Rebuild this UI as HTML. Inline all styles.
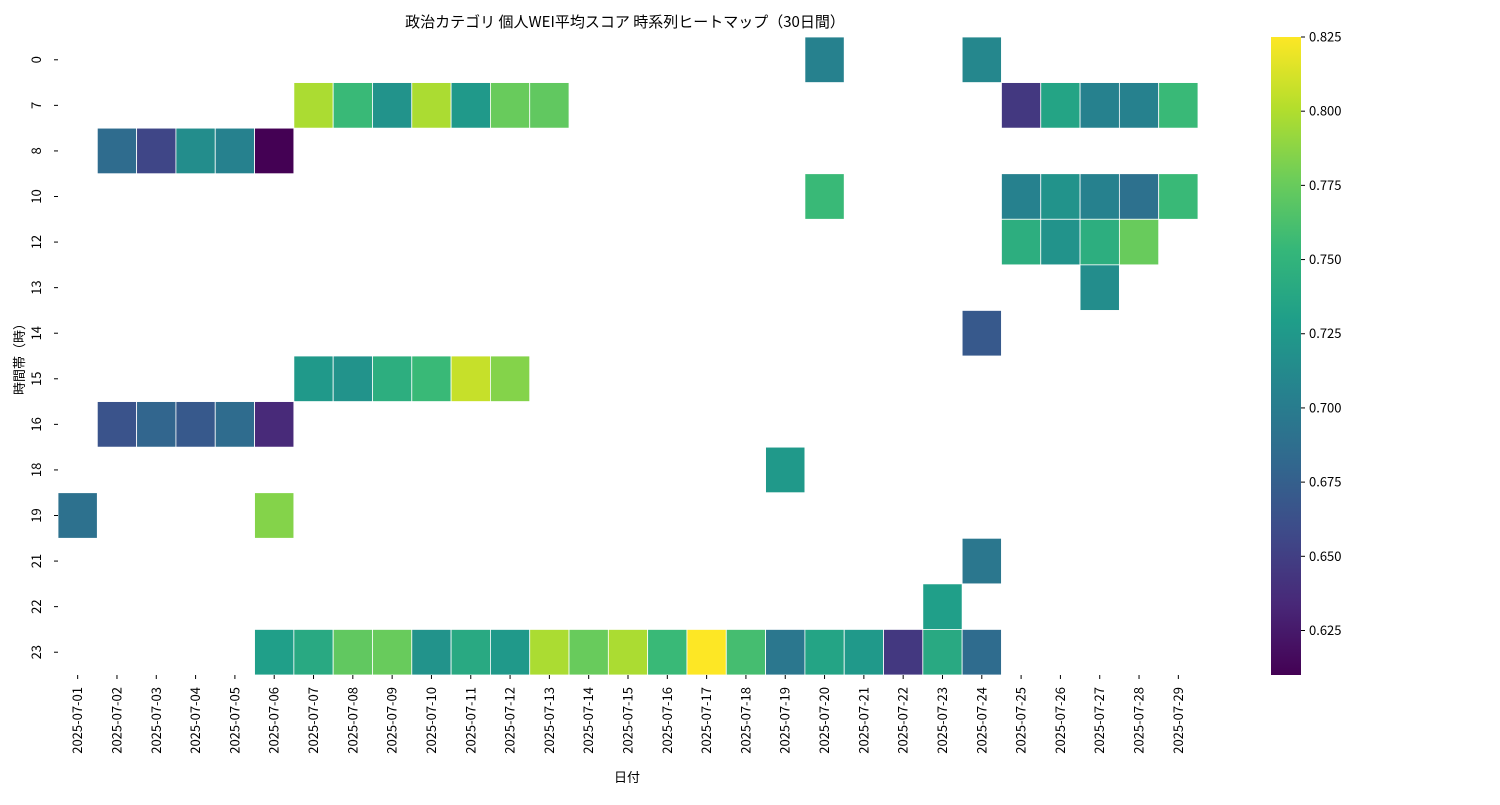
<!DOCTYPE html>
<html><head><meta charset="utf-8">
<style>
html,body{margin:0;padding:0;background:#fff;}
svg text{font-family:"Noto Sans CJK JP","Liberation Sans",sans-serif;fill:#000;}
</style></head>
<body>
<svg id="chart" width="1500" height="800" xmlns="http://www.w3.org/2000/svg">
<text x="625" y="27" font-size="15" text-anchor="middle">政治カテゴリ 個人WEI平均スコア 時系列ヒートマップ（30日間）</text>
<g id="cells"></g>
<g id="xticks"></g>
<g id="yticks"></g>
<text x="627" y="782" font-size="13" text-anchor="middle">日付</text>
<text transform="translate(24,356) rotate(-90)" font-size="13" text-anchor="middle">時間帯（時）</text>
<defs><linearGradient id="vg" x1="0" y1="1" x2="0" y2="0"></linearGradient></defs>
<rect x="1271" y="37" width="30" height="638" fill="url(#vg)"/>
<g id="cbticks"></g>
</svg>
<script>
const dates = ["2025-07-01","2025-07-02","2025-07-03","2025-07-04","2025-07-05","2025-07-06","2025-07-07","2025-07-08","2025-07-09","2025-07-10","2025-07-11","2025-07-12","2025-07-13","2025-07-14","2025-07-15","2025-07-16","2025-07-17","2025-07-18","2025-07-19","2025-07-20","2025-07-21","2025-07-22","2025-07-23","2025-07-24","2025-07-25","2025-07-26","2025-07-27","2025-07-28","2025-07-29"];
const hours = [0,7,8,10,12,13,14,15,16,18,19,21,22,23];
const cellHour = [0,0, 7,7,7,7,7,7,7,7,7,7,7,7, 8,8,8,8,8, 10,10,10,10,10,10, 12,12,12,12, 13, 14, 15,15,15,15,15,15, 16,16,16,16,16, 18, 19,19, 21, 22, 23,23,23,23,23,23,23,23,23,23,23,23,23,23,23,23,23,23,23];
const cellDate = ["07-20","07-24", "07-07","07-08","07-09","07-10","07-11","07-12","07-13","07-25","07-26","07-27","07-28","07-29", "07-02","07-03","07-04","07-05","07-06", "07-20","07-25","07-26","07-27","07-28","07-29", "07-25","07-26","07-27","07-28", "07-27", "07-24", "07-07","07-08","07-09","07-10","07-11","07-12", "07-02","07-03","07-04","07-05","07-06", "07-19", "07-01","07-06", "07-24", "07-23", "07-06","07-07","07-08","07-09","07-10","07-11","07-12","07-13","07-14","07-15","07-16","07-17","07-18","07-19","07-20","07-21","07-22","07-23","07-24"];
const cellValue = [0.705,0.71, 0.798,0.755,0.72,0.798,0.725,0.775,0.772,0.645,0.735,0.705,0.705,0.755, 0.685,0.655,0.715,0.705,0.61, 0.755,0.705,0.72,0.705,0.69,0.755, 0.745,0.72,0.745,0.775, 0.715, 0.67, 0.725,0.72,0.745,0.755,0.807,0.785, 0.665,0.68,0.67,0.685,0.635, 0.725, 0.69,0.785, 0.695, 0.73, 0.73,0.74,0.772,0.775,0.72,0.74,0.725,0.798,0.775,0.798,0.755,0.825,0.76,0.695,0.735,0.725,0.645,0.74,0.685];
const cbTicks = [0.625,0.65,0.675,0.7,0.725,0.75,0.775,0.8,0.825];
const vmin = 0.61, vmax = 0.825;

const NS="http://www.w3.org/2000/svg";
const X0=58, X1=1198, Y0=37, Y1=675;
const cw=(X1-X0)/dates.length, ch=(Y1-Y0)/hours.length;
const xScale=i=>X0+i*cw, yScale=i=>Y0+i*ch;
const cbY=v=>Y1-(v-vmin)/(vmax-vmin)*(Y1-Y0);
const vir=[[68,1,84],[72,40,120],[62,74,137],[49,104,142],[38,130,142],[31,158,137],[53,183,121],[109,205,89],[180,222,44],[253,231,37]];
function color(v){let t=Math.max(0,Math.min(1,(v-vmin)/(vmax-vmin)))*(vir.length-1);let i=Math.min(Math.floor(t),vir.length-2),f=t-i;
 const c=vir[i].map((a,k)=>Math.round(a+(vir[i+1][k]-a)*f));return `rgb(${c[0]},${c[1]},${c[2]})`;}
function mk(tag,attrs,parent){const e=document.createElementNS(NS,tag);for(const k in attrs)e.setAttribute(k,attrs[k]);parent.appendChild(e);return e;}
const g=document.getElementById('cells');
for(let i=0;i<cellValue.length;i++){
 const c=dates.indexOf("2025-"+cellDate[i]), r=hours.indexOf(cellHour[i]);
 const el=mk('rect',{x:xScale(c),y:yScale(r),width:cw,height:ch,fill:color(cellValue[i]),stroke:'#fff','stroke-width':0.8},g);
 
 
}
const xt=document.getElementById('xticks');
dates.forEach((d,i)=>{const x=xScale(i)+cw/2;
 const l=mk('line',{x1:x,x2:x,y1:Y1,y2:Y1+4,stroke:'#000'},xt);
 
 
 const t=mk('text',{transform:`translate(${x+4.5},${Y1+12}) rotate(-90)`,'font-size':13,'text-anchor':'end'},xt);t.textContent=d;
 
 
});
const yt=document.getElementById('yticks');
hours.forEach((h,i)=>{const y=yScale(i)+ch/2;
 const l=mk('line',{x1:X0-4,x2:X0,y1:y,y2:y,stroke:'#000'},yt);
 
 
 const t=mk('text',{transform:`translate(${X0-17},${y}) rotate(-90)`,'font-size':13,'text-anchor':'middle'},yt);t.textContent=h;
 
 
});
const grad=document.getElementById('vg');
vir.forEach((c,i)=>mk('stop',{offset:(i/(vir.length-1)*100)+'%','stop-color':`rgb(${c[0]},${c[1]},${c[2]})`},grad));
const cb=document.getElementById('cbticks');
cbTicks.forEach(v=>{const y=cbY(v);
 const l=mk('line',{x1:1301,x2:1305,y1:y,y2:y,stroke:'#000'},cb);
 
 
 const t=mk('text',{x:1309,y:y+4.5,'font-size':13},cb);t.textContent=v.toFixed(3);
 
 
});
</script>
</body></html>
